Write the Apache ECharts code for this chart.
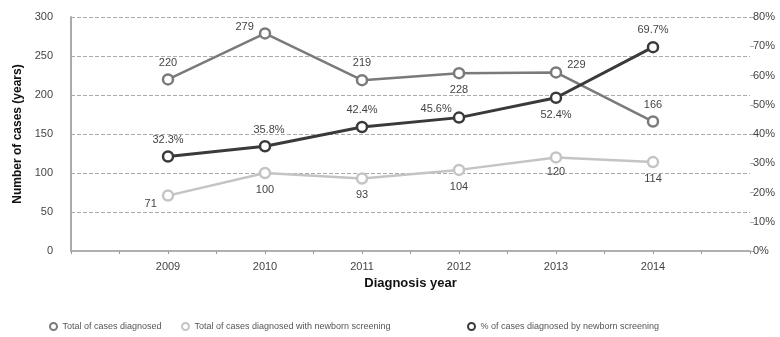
<!DOCTYPE html>
<html><head><meta charset="utf-8">
<script src="https://cdn.jsdelivr.net/npm/echarts@6/dist/echarts.min.js"></script>
<style>html,body{margin:0;padding:0;background:#fff}#c{width:780px;height:337px}</style>
</head><body><div id="c"></div>
<script>
const years = [2009, 2010, 2011, 2012, 2013, 2014];
const totalCases = [220, 279, 219, 228, 229, 166];
const screeningCases = [71, 100, 93, 104, 120, 114];
const pctScreening = [32.3, 35.8, 42.4, 45.6, 52.4, 69.7];
const leftTicks = [0, 50, 100, 150, 200, 250, 300];
const rightTicks = [0, 10, 20, 30, 40, 50, 60, 70, 80];
const seriesNames = ['Total of cases diagnosed', 'Total of cases diagnosed with newborn screening', '% of cases diagnosed by newborn screening'];

const totalPos = ['top', 'left', 'top', 'bottom', 'right', 'top'];
const totalOff = [[0, 0], [0, -6], [0, 0], [0, 0], [0, -7], [0, 0]];
const screenPos = ['left', 'bottom', 'bottom', 'bottom', 'bottom', 'bottom'];
const screenOff = [[0, 8], [0, 0], [0, 0], [0, 0], [0, -2], [0, 0]];
const pctPos = ['top', 'top', 'top', 'left', 'bottom', 'top'];
const pctOff = [[0, 0], [4, 0], [0, 0], [4, -9], [0, 0], [0, 0]];
const legendLefts = [44, 176, 462];

const FONT = '"Liberation Sans", Arial, sans-serif';
const chart = echarts.init(document.getElementById('c'));

function mk(vals, pos, off, fmt) {
  return vals.map((v, i) => ({
    value: [years[i], v],
    label: { position: pos[i], offset: off[i], formatter: fmt }
  }));
}

chart.setOption({
  animation: false,
  textStyle: { fontFamily: FONT },
  grid: { left: 71, right: 30, top: 17, bottom: 86 },
  legend: seriesNames.map((n, i) => ({
    bottom: 1, left: legendLefts[i], itemWidth: 8, itemHeight: 7, itemGap: 4,
    icon: 'circle',
    textStyle: { fontSize: 9, color: '#555', fontFamily: FONT },
    data: [n]
  })),
  xAxis: {
    type: 'value', min: 2008, max: 2015, interval: 0.5,
    name: 'Diagnosis year', nameLocation: 'middle', nameGap: 24,
    nameTextStyle: { fontSize: 13, fontWeight: 'bold', color: '#111', fontFamily: FONT },
    axisLine: { lineStyle: { color: '#b0b0b0', width: 2 } },
    axisTick: { show: true, length: 3, lineStyle: { color: '#999' } },
    splitLine: { show: false },
    axisLabel: {
      color: '#444', fontSize: 11, margin: 10,
      formatter: v => (Number.isInteger(v) && years.includes(v)) ? String(v) : ''
    }
  },
  yAxis: [{
    type: 'value', min: 0, max: 300, interval: 50,
    name: 'Number of cases (years)', nameLocation: 'middle', nameGap: 43,
    nameTextStyle: { fontSize: 12, fontWeight: 'bold', color: '#111', fontFamily: FONT },
    axisLine: { show: true, lineStyle: { color: '#aaa', width: 2 } },
    axisTick: { show: false },
    axisLabel: { color: '#444', fontSize: 11, margin: 18, formatter: v => leftTicks.includes(v) ? String(v) : '' },
    splitLine: { show: true, lineStyle: { color: '#aaa', type: 'dashed', width: 1 } }
  }, {
    type: 'value', min: 0, max: 80, interval: 10,
    axisLine: { show: false },
    axisTick: { show: true, length: 4, inside: false, lineStyle: { color: '#aaa' } },
    axisLabel: { color: '#444', fontSize: 11, margin: 3, formatter: v => rightTicks.includes(v) ? v + '%' : '' },
    splitLine: { show: false }
  }],
  series: [{
    name: seriesNames[0], type: 'line', yAxisIndex: 0,
    data: mk(totalCases, totalPos, totalOff, p => String(p.value[1])),
    symbol: 'circle', symbolSize: 10,
    lineStyle: { color: '#7a7a7a', width: 2.5 },
    itemStyle: { color: '#fff', borderColor: '#7a7a7a', borderWidth: 2.5 },
    label: { show: true, color: '#444', fontSize: 11, distance: 5 },
    z: 3
  }, {
    name: seriesNames[1], type: 'line', yAxisIndex: 0,
    data: mk(screeningCases, screenPos, screenOff, p => String(p.value[1])),
    symbol: 'circle', symbolSize: 10,
    lineStyle: { color: '#c4c4c4', width: 2.5 },
    itemStyle: { color: '#fff', borderColor: '#c4c4c4', borderWidth: 2.5 },
    label: { show: true, color: '#444', fontSize: 11, distance: 5 },
    z: 2
  }, {
    name: seriesNames[2], type: 'line', yAxisIndex: 1,
    data: mk(pctScreening, pctPos, pctOff, p => p.value[1].toFixed(1) + '%'),
    symbol: 'circle', symbolSize: 10,
    lineStyle: { color: '#3a3a3a', width: 3 },
    itemStyle: { color: '#fff', borderColor: '#3a3a3a', borderWidth: 2.5 },
    label: { show: true, color: '#444', fontSize: 11, distance: 5 },
    z: 4
  }]
});
</script></body></html>
